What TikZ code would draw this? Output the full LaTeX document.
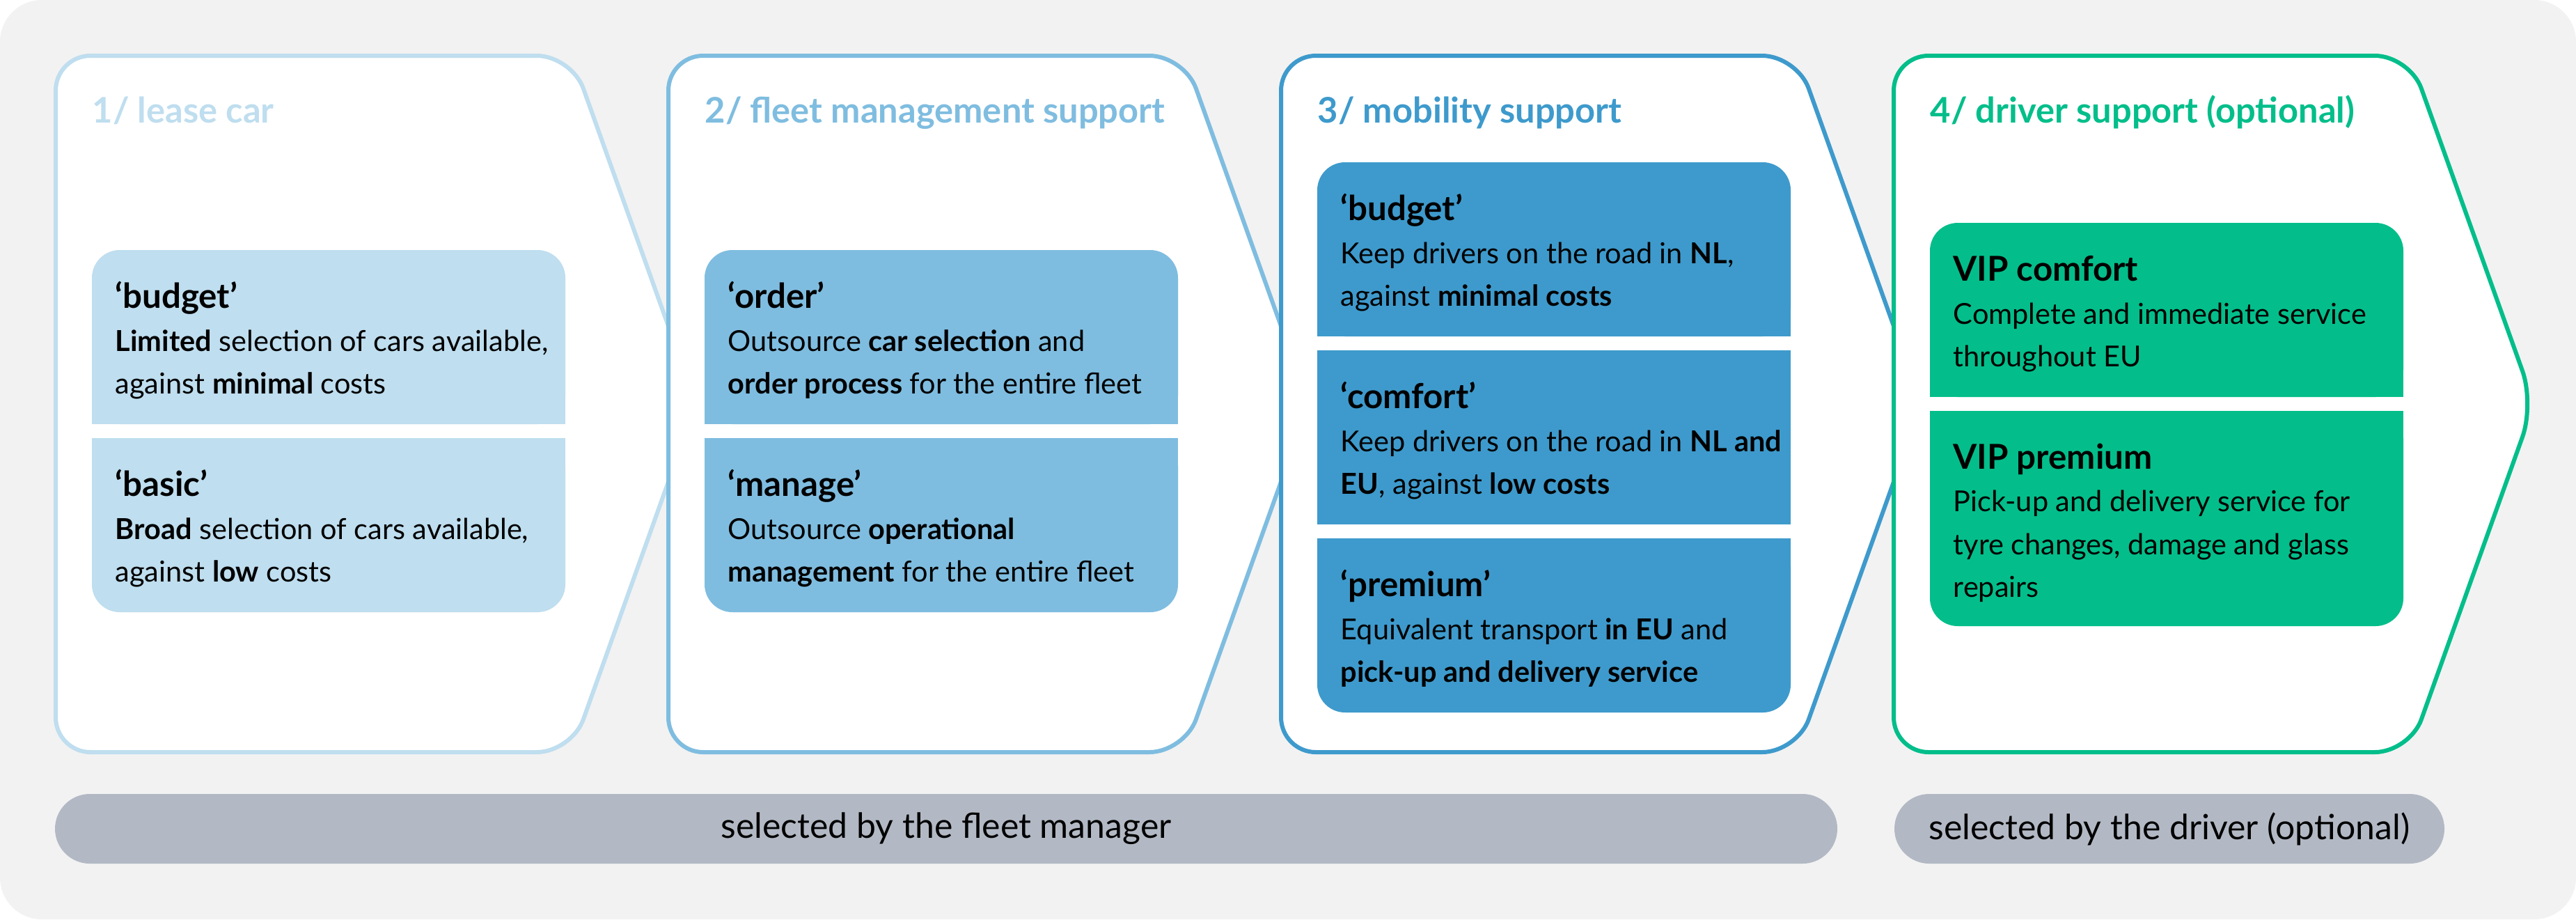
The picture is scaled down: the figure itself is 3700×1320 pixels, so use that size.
\documentclass[tikz,border=0pt]{standalone}
\usepackage{fontspec}
\setmainfont{Lato}
\usepackage{tikz}

\definecolor{bggray}{HTML}{F2F2F2}
\definecolor{bargray}{HTML}{B2B9C4}
\definecolor{leaseblue}{HTML}{BFDEEF}
\definecolor{fleetblue}{HTML}{7FBDE0}
\definecolor{mobilityblue}{HTML}{3E9ACC}
\definecolor{drivergreen}{HTML}{03BE8A}

\newcommand{\boxhead}[1]{{\fontsize{14pt}{17.36pt}\selectfont\bfseries #1}}

\begin{document}
\begin{tikzpicture}[x=0.1mm, y=-0.1mm,
    panel/.style={fill=white, line width=0.6mm, rounded corners=5mm, line join=round},
    title/.style={anchor=base west, inner sep=0pt, font=\fontsize{14.4pt}{17pt}\selectfont\bfseries},
    boxtext/.style={anchor=base west, inner sep=0pt, align=left, font=\fontsize{11.8pt}{17.36pt}\selectfont},
    bartext/.style={inner sep=0pt, font=\fontsize{14.2pt}{17pt}\selectfont}]
    \useasboundingbox (0,0) rectangle (3700,1320);
    \fill[bggray, rounded corners=6mm] (0,0) rectangle (3700,1320);

    % 1/ lease car
    \draw[panel, draw=leaseblue] (80,80) -- (821,80) -- (1000,580) -- (821,1080) -- (80,1080) -- cycle;
    \node[title, text=leaseblue] (t1) at (132,176) {1/ lease car};
    \fill[leaseblue, rounded corners=4mm] (132,359) rectangle (812,609);
    \fill[leaseblue] (132,480) rectangle (812,609);
    \fill[leaseblue, rounded corners=4mm] (132,629) rectangle (812,879);
    \fill[leaseblue] (132,629) rectangle (812,760);
    \node[boxtext] (budget1) at (165,565) {\boxhead{‘budget’}\\
        \textbf{Limited} selection of cars available,\\ against \textbf{minimal} costs};
    \node[boxtext] (basic) at (165,835) {\boxhead{‘basic’}\\
        \textbf{Broad} selection of cars available,\\ against \textbf{low} costs};

    % 2/ fleet management support
    \draw[panel, draw=fleetblue] (960,80) -- (1701,80) -- (1880,580) -- (1701,1080) -- (960,1080) -- cycle;
    \node[title, text=fleetblue] (t2) at (1012,176) {2/ fleet management support};
    \fill[fleetblue, rounded corners=4mm] (1012,359) rectangle (1692,609);
    \fill[fleetblue] (1012,480) rectangle (1692,609);
    \fill[fleetblue, rounded corners=4mm] (1012,629) rectangle (1692,879);
    \fill[fleetblue] (1012,629) rectangle (1692,760);
    \node[boxtext] (order) at (1045,565) {\boxhead{‘order’}\\
        Outsource \textbf{car selection} and\\ \textbf{order process} for the entire fleet};
    \node[boxtext] (manage) at (1045,835) {\boxhead{‘manage’}\\
        Outsource \textbf{operational}\\ \textbf{management} for the entire fleet};

    % 3/ mobility support
    \draw[panel, draw=mobilityblue] (1840,80) -- (2581,80) -- (2760,580) -- (2581,1080) -- (1840,1080) -- cycle;
    \node[title, text=mobilityblue] (t3) at (1892,176) {3/ mobility support};
    \fill[mobilityblue, rounded corners=4mm] (1892,233) rectangle (2572,483);
    \fill[mobilityblue] (1892,360) rectangle (2572,483);
    \fill[mobilityblue] (1892,503) rectangle (2572,753);
    \fill[mobilityblue, rounded corners=4mm] (1892,773) rectangle (2572,1023);
    \fill[mobilityblue] (1892,773) rectangle (2572,900);
    \node[boxtext] (budget3) at (1925,439) {\boxhead{‘budget’}\\
        Keep drivers on the road in \textbf{NL},\\ against \textbf{minimal costs}};
    \node[boxtext] (comfort) at (1925,709) {\boxhead{‘comfort’}\\
        Keep drivers on the road in \textbf{NL and}\\ \textbf{EU}, against \textbf{low costs}};
    \node[boxtext] (premium) at (1925,979) {\boxhead{‘premium’}\\
        Equivalent transport \textbf{in EU} and\\ \textbf{pick-up and delivery service}};

    % 4/ driver support (optional)
    \draw[panel, draw=drivergreen] (2720,80) -- (3461,80) -- (3640,580) -- (3461,1080) -- (2720,1080) -- cycle;
    \node[title, text=drivergreen] (t4) at (2772,176) {4/ driver support (optional)};
    \fill[drivergreen, rounded corners=4mm] (2772,320) rectangle (3452,570);
    \fill[drivergreen] (2772,440) rectangle (3452,570);
    \fill[drivergreen, rounded corners=4mm] (2772,590) rectangle (3452,899);
    \fill[drivergreen] (2772,590) rectangle (3452,760);
    \node[boxtext] (vipcomfort) at (2805,526) {\boxhead{VIP comfort}\\
        Complete and immediate service\\ throughout EU};
    \node[boxtext] (vippremium) at (2805,857) {\boxhead{VIP premium}\\
        Pick-up and delivery service for\\ tyre changes, damage and glass\\ repairs};

    % who selects
    \fill[bargray, rounded corners=5mm] (79,1140) rectangle (2639,1240);
    \node[bartext] (fleetmgr) at (1359,1190) {selected by the fleet manager};
    \fill[bargray, rounded corners=5mm] (2721,1140) rectangle (3511,1240);
    \node[bartext] (driver) at (3116,1190) {selected by the driver (optional)};
\end{tikzpicture}
\end{document}
